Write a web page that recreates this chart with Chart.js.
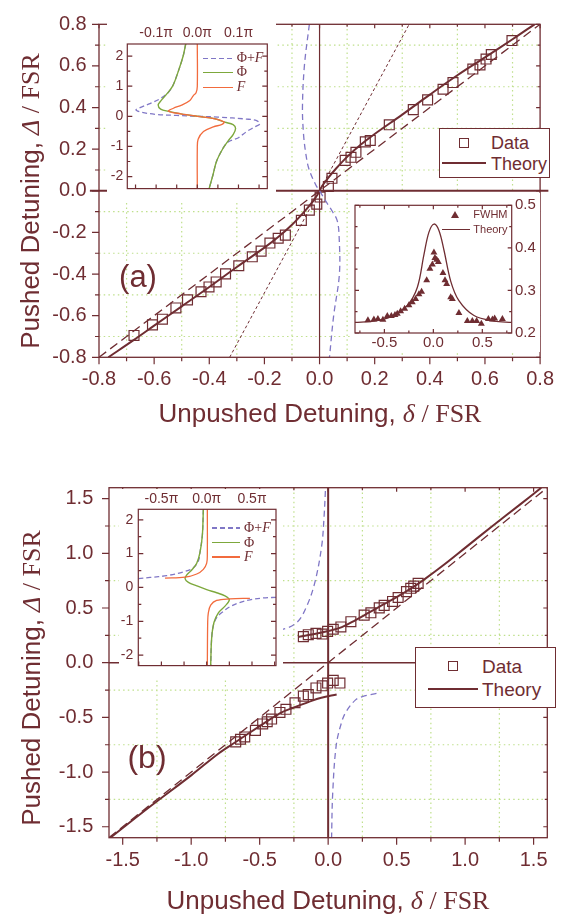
<!DOCTYPE html>
<html>
<head>
<meta charset="utf-8">
<title>Pushed vs unpushed detuning</title>
<script src="https://cdn.jsdelivr.net/npm/chart.js@4.4.1/dist/chart.umd.min.js"></script>
<style>
body { margin: 0; background: #fff; }
#fig { position: relative; width: 564px; height: 915px; overflow: hidden; background: #fff;
       font-family: "Liberation Sans", Arial, sans-serif; color: #6f2d32; }
#fig canvas { position: absolute; }
.t { position: absolute; white-space: nowrap; line-height: 1; transform: translate(-50%, -50%); }
.t.v { transform: translate(-50%, -50%) rotate(-90deg); }
.l { position: absolute; white-space: nowrap; line-height: 1; transform: translateY(-50%); }
.s { font-family: "Liberation Serif", "Times New Roman", serif; }
.box { position: absolute; box-sizing: border-box; border: 1.3px solid #6f2d32; background: #fff; }
.sq { position: absolute; box-sizing: border-box; width: 10px; height: 10px; border: 1.3px solid #6f2d32; }
.sw { position: absolute; }
.dash { background: repeating-linear-gradient(90deg, #8077c6 0 5px, transparent 5px 8px); height: 1.3px; }
</style>
</head>
<body>
<div id="fig">
  <canvas id="mainA" width="564" height="440" style="left:0;top:0"></canvas>
  <canvas id="insetA1" width="169" height="181" style="left:107px;top:20px"></canvas>
  <canvas id="insetA2" width="190" height="159" style="left:350px;top:193px"></canvas>
  <canvas id="mainB" width="564" height="455" style="left:0;top:460px"></canvas>
  <canvas id="insetB1" width="164" height="190" style="left:119px;top:489px"></canvas>

  <!-- panel (a) texts -->
  <div class="t" style="left:320px;top:413px;font-size:26px">Unpushed Detuning, <i class="s">δ</i><span class="s"> / FSR</span></div>
  <div class="t v" style="left:30px;top:201px;font-size:26px">Pushed Detuning, <i class="s">Δ</i><span class="s"> / FSR</span></div>
  <div class="t" style="left:138px;top:276px;font-size:31px">(a)</div>

  <div class="box" style="left:439px;top:128px;width:111px;height:50px"></div>
  <div class="sq" style="left:459px;top:138px"></div>
  <div class="l" style="left:491px;top:143px;font-size:18px">Data</div>
  <div class="sw" style="left:442px;top:162.3px;width:44px;height:2px;background:#6f2d32"></div>
  <div class="l" style="left:491px;top:164px;font-size:18px">Theory</div>

  <div class="sw dash" style="left:203px;top:57.7px;width:30px"></div>
  <div class="sw" style="left:203px;top:71.6px;width:30px;height:1.4px;background:#7da83c"></div>
  <div class="sw" style="left:203px;top:86.6px;width:30px;height:1.4px;background:#f26b3d"></div>
  <div class="l s" style="left:236.7px;top:58.3px;font-size:14px">Φ+<i>F</i></div>
  <div class="l s" style="left:236.7px;top:72.3px;font-size:14px">Φ</div>
  <div class="l s" style="left:236.7px;top:87.3px;font-size:14px"><i>F</i></div>

  <div class="sw" style="left:451px;top:210.5px;width:0;height:0;border-left:4px solid transparent;border-right:4px solid transparent;border-bottom:7px solid #6f2d32"></div>
  <div class="l" style="left:473.3px;top:214px;font-size:11px">FWHM</div>
  <div class="sw" style="left:441.7px;top:228.7px;width:28.3px;height:1.3px;background:#6f2d32"></div>
  <div class="l" style="left:473.3px;top:229.3px;font-size:11px">Theory</div>

  <!-- panel (b) texts -->
  <div class="t" style="left:328px;top:900px;font-size:26px">Unpushed Detuning, <i class="s">δ</i><span class="s"> / FSR</span></div>
  <div class="t v" style="left:31px;top:678px;font-size:26px">Pushed Detuning, <i class="s">Δ</i><span class="s"> / FSR</span></div>
  <div class="t" style="left:147px;top:757px;font-size:32px">(b)</div>

  <div class="box" style="left:415px;top:647px;width:141px;height:61px"></div>
  <div class="sq" style="left:448.3px;top:661px"></div>
  <div class="l" style="left:482px;top:666px;font-size:19px">Data</div>
  <div class="sw" style="left:428px;top:688px;width:50px;height:2px;background:#6f2d32"></div>
  <div class="l" style="left:482px;top:689px;font-size:19px">Theory</div>

  <div class="sw dash" style="left:211.7px;top:527.4px;width:28.3px"></div>
  <div class="sw" style="left:211.7px;top:541.8px;width:28.3px;height:1.4px;background:#7da83c"></div>
  <div class="sw" style="left:211.7px;top:556.3px;width:28.3px;height:1.4px;background:#f26b3d"></div>
  <div class="l s" style="left:244px;top:528px;font-size:14px">Φ+<i>F</i></div>
  <div class="l s" style="left:244px;top:542.5px;font-size:14px">Φ</div>
  <div class="l s" style="left:244px;top:557px;font-size:14px"><i>F</i></div>
</div>

<script>
var MAROON = '#6f2d32';
var BLUE = '#8077c6';
var GREEN = '#7da83c';
var ORANGE = '#f26b3d';
var GRID = '#bfe08c';
var SANS = '"Liberation Sans", Arial, sans-serif';

// ---------- panel (a): main ----------
var aTicks = [-0.8, -0.6, -0.4, -0.2, 0, 0.2, 0.4, 0.6, 0.8];
var aMinor = [-0.7, -0.5, -0.3, -0.1, 0.1, 0.3, 0.5, 0.7];
var aDataX = [-0.673, -0.606, -0.570, -0.521, -0.479, -0.430, -0.401, -0.375, -0.341, -0.293, -0.244, -0.212,
              -0.180, -0.150, -0.124, -0.066, -0.037, -0.010, 0.002, 0.032, 0.045, 0.093, 0.114, 0.132,
              0.166, 0.184, 0.253, 0.340, 0.392, 0.448, 0.484, 0.556, 0.582, 0.604, 0.623, 0.698];
var aDataY = [-0.695, -0.644, -0.617, -0.563, -0.524, -0.485, -0.462, -0.438, -0.399, -0.360, -0.317, -0.290,
              -0.251, -0.228, -0.213, -0.142, -0.093, -0.064, -0.030, 0.021, 0.060, 0.146, 0.161, 0.185,
              0.235, 0.242, 0.317, 0.390, 0.437, 0.488, 0.520, 0.585, 0.605, 0.633, 0.655, 0.722];
var aTheoryX = [-0.766, -0.676, -0.6, -0.5, -0.4, -0.3, -0.2, -0.15, -0.1, -0.06, -0.03, -0.01, 0,
                0.01, 0.03, 0.06, 0.1, 0.15, 0.2, 0.3, 0.4, 0.5, 0.6, 0.7, 0.78];
var aTheoryY = [-0.8, -0.719, -0.648, -0.555, -0.462, -0.366, -0.273, -0.222, -0.163, -0.107, -0.06, -0.024, 0,
                0.024, 0.06, 0.107, 0.163, 0.222, 0.273, 0.366, 0.462, 0.555, 0.641, 0.728, 0.8];
var aDiagX = [-0.8, 0.8];
var aDiagY = [-0.8, 0.8];
var aSlopeX = [-0.326, 0.325];
var aSlopeY = [-0.8, 0.8];
var aPoleX = [-0.037, -0.055, -0.062, -0.058, -0.05, -0.039, -0.014, 0, 0.012, 0.03, 0.045, 0.064, 0.071, 0.072, 0.051, 0.036];
var aPoleY = [0.8, 0.6, 0.4, 0.27, 0.18, 0.107, 0.029, 0, -0.026, -0.065, -0.096, -0.143, -0.22, -0.4, -0.602, -0.8];
var aZeroX = [-0.833, 0.83];

// ---------- panel (a): phase inset (x in units of pi) ----------
var a1TickX = [-0.1, 0, 0.1];
var a1MinorX = [-0.15, -0.05, 0.05, 0.15];
var a1TickY = [-2, -1, 0, 1, 2];
var a1MinorY = [-1.5, -0.5, 0.5, 1.5];
var a1SumX = [-0.028, -0.034, -0.046, -0.06, -0.07, -0.091, -0.115, -0.139, -0.149, -0.139, -0.099, -0.05, 0,
              0.05, 0.12, 0.144, 0.152, 0.14, 0.12, 0.1, 0.075, 0.063, 0.047, 0.038, 0.029];
var a1SumY = [2.41, 2.02, 1.5, 1.0, 0.8, 0.578, 0.423, 0.288, 0.217, 0.145, 0.062, 0.03, 0,
              -0.025, -0.093, -0.144, -0.247, -0.35, -0.505, -0.711, -0.85, -1.05, -1.485, -1.95, -2.39];
var a1PhiX = [-0.028, -0.034, -0.046, -0.06, -0.076, -0.089, -0.095, -0.089, -0.07, -0.04, 0,
              0.043, 0.067, 0.087, 0.093, 0.087, 0.075, 0.063, 0.047, 0.038, 0.029];
var a1PhiY = [2.41, 2.02, 1.5, 1.0, 0.71, 0.505, 0.371, 0.237, 0.165, 0.082, 0,
              -0.082, -0.196, -0.278, -0.402, -0.608, -0.814, -1.05, -1.485, -1.95, -2.39];
var a1FX = [0, 0, -0.003, -0.01, -0.018, -0.038, -0.058, -0.07, -0.04, 0,
            0.043, 0.065, 0.06, 0.039, 0.015, 0.002, 0, 0];
var a1FY = [2.41, 0.99, 0.78, 0.68, 0.526, 0.371, 0.268, 0.17, 0.082, 0,
            -0.082, -0.19, -0.27, -0.35, -0.505, -0.763, -1.07, -2.41];

// ---------- panel (a): FWHM inset ----------
var a2TickX = [-0.5, 0, 0.5];
var a2MinorX = [-0.75, -0.25, 0.25, 0.75];
var a2TickY = [0.2, 0.3, 0.4, 0.5];
var a2MinorY = [0.25, 0.35, 0.45];
var a2FwhmX = [-0.668, -0.607, -0.566, -0.515, -0.47, -0.429, -0.392, -0.368, -0.334, -0.293, -0.249, -0.215,
               -0.181, -0.147, -0.12, -0.068, -0.035, -0.01, 0.006, 0.016, 0.034, 0.051, 0.098, 0.119,
               0.136, 0.177, 0.194, 0.261, 0.347, 0.398, 0.442, 0.49, 0.562, 0.603, 0.626, 0.705];
var a2FwhmY = [0.230, 0.232, 0.233, 0.231, 0.240, 0.240, 0.242, 0.245, 0.251, 0.257, 0.265, 0.272,
               0.280, 0.291, 0.297, 0.324, 0.351, 0.361, 0.389, 0.376, 0.372, 0.367, 0.341, 0.324,
               0.315, 0.284, 0.280, 0.247, 0.228, 0.228, 0.228, 0.222, 0.233, 0.232, 0.234, 0.233];
var a2TheoryX = [-0.8, -0.607, -0.437, -0.266, -0.164, -0.096, -0.045, 0.006, 0.057, 0.108, 0.177, 0.261, 0.415, 0.619, 0.8];
var a2TheoryY = [0.225, 0.228, 0.238, 0.265, 0.307, 0.384, 0.437, 0.456, 0.441, 0.395, 0.322, 0.276, 0.241, 0.228, 0.225];

// ---------- panel (b): main ----------
var bTicks = [-1.5, -1, -0.5, 0, 0.5, 1, 1.5];
var bMinor = [-1.25, -0.75, -0.25, 0.25, 0.75, 1.25];
var bLowX = [-0.675, -0.64, -0.609, -0.531, -0.478, -0.445, -0.413, -0.352, -0.308, -0.242, -0.181, -0.145,
             -0.089, -0.043, -0.004, 0.037, 0.086];
var bLowY = [-0.724, -0.70, -0.679, -0.619, -0.56, -0.54, -0.515, -0.455, -0.426, -0.366, -0.306, -0.291,
             -0.231, -0.211, -0.186, -0.162, -0.186];
var bUpX = [-0.181, -0.145, -0.089, -0.043, -0.004, 0.037, 0.093, 0.166, 0.263, 0.312, 0.373, 0.409,
            0.47, 0.511, 0.572, 0.603, 0.625, 0.657];
var bUpY = [0.238, 0.256, 0.268, 0.262, 0.286, 0.306, 0.327, 0.375, 0.435, 0.456, 0.501, 0.524,
            0.56, 0.596, 0.65, 0.68, 0.70, 0.725];
var bTheoryUpX = [-0.22, -0.1, 0, 0.1, 0.2, 0.3, 0.4, 0.5, 0.6, 0.7, 0.85, 1.0, 1.2, 1.4, 1.556];
var bTheoryUpY = [0.235, 0.262, 0.29, 0.325, 0.39, 0.46, 0.53, 0.6, 0.675, 0.76, 0.9, 1.05, 1.25, 1.445, 1.6];
var bTheoryLowX = [-1.59, -1.3, -1.0, -0.8, -0.675, -0.5, -0.35, -0.25, -0.145, -0.05, 0.062];
var bTheoryLowY = [-1.6, -1.315, -1.03, -0.83, -0.725, -0.58, -0.46, -0.41, -0.36, -0.32, -0.291];
var bDiagX = [-1.6, 1.6];
var bDiagY = [-1.6, 1.6];
var bPoleUpX = [-0.5, -0.351, -0.23, -0.157, -0.096, -0.047, -0.03, -0.019];
var bPoleUpY = [0.265, 0.297, 0.366, 0.515, 0.739, 1.068, 1.33, 1.6];
var bPoleLowX = [0.353, 0.25, 0.2, 0.13, 0.098, 0.059, 0.033, 0.025];
var bPoleLowY = [-0.28, -0.31, -0.34, -0.45, -0.545, -0.754, -1.2, -1.6];

// ---------- panel (b): phase inset (x in units of pi) ----------
var b1TickX = [-0.5, 0, 0.5];
var b1MinorX = [-0.75, -0.25, 0.25, 0.75];
var b1TickY = [-2, -1, 0, 1, 2];
var b1MinorY = [-1.5, -0.5, 0.5, 1.5];
var b1FUpX = [0.007, 0.007, 0, -0.037, -0.11, -0.239, -0.46];
var b1FUpY = [2.31, 0.993, 0.717, 0.535, 0.397, 0.303, 0.276];
var b1FLowX = [0.477, 0.257, 0.11, 0.044, 0.018, 0.011, 0.007];
var b1FLowY = [-0.32, -0.339, -0.385, -0.524, -0.753, -1.03, -2.31];
var b1PhiX = [-0.037, -0.048, -0.074, -0.11, -0.165, -0.22, -0.239, -0.202, -0.11, 0, 0.11, 0.202, 0.25,
              0.202, 0.129, 0.081, 0.055, 0.044];
var b1PhiY = [2.31, 1.545, 1.04, 0.717, 0.516, 0.37, 0.26, 0.149, 0.047, -0.064, -0.156, -0.248, -0.367,
              -0.552, -0.753, -1.03, -1.49, -2.31];
var b1SumUpX = [-0.037, -0.048, -0.074, -0.09, -0.147, -0.257, -0.441, -0.625, -0.755];
var b1SumUpY = [2.31, 1.545, 1.04, 0.8, 0.58, 0.46, 0.35, 0.295, 0.26];
var b1SumLowX = [0.765, 0.625, 0.477, 0.349, 0.257, 0.184, 0.11, 0.074, 0.055, 0.044];
var b1SumLowY = [-0.293, -0.31, -0.367, -0.459, -0.57, -0.708, -0.891, -1.122, -1.49, -2.31];

// ---------- helpers ----------
function pts(xs, ys) {
    return xs.map(function(x, i) { return { x: x, y: ys[i] }; });
}

function curve(xs, ys, color, width, dash, extra) {
    return Object.assign({
        data: pts(xs, ys), showLine: true, pointRadius: 0, fill: false,
        borderColor: color, borderWidth: width, borderDash: dash || [], tension: 0.35
    }, extra || {});
}

function axis(pos, min, max, ticks, size, fontSize, pad, fmt) {
    return {
        type: 'linear', position: pos, min: min, max: max,
        afterBuildTicks: function(s) { s.ticks = ticks.map(function(v) { return { value: v }; }); },
        afterFit: function(s) {
            if (pos === 'left' || pos === 'right') { s.width = size; } else { s.height = size; }
        },
        grid: { display: false, drawTicks: false },
        border: { display: false },
        ticks: {
            color: MAROON, font: { family: SANS, size: fontSize }, padding: pad,
            autoSkip: false, maxRotation: 0, minRotation: 0, callback: fmt
        }
    };
}

var fmt1 = function(v) { return v.toFixed(1); };
var fmtPi = function(v) { return v.toFixed(1) + 'π'; };
var fmt0 = function(v) { return String(v); };

// background, dotted grid, frame and tick marks
function decor(conf) {
    return {
        id: 'decor',
        beforeDraw: function(chart) {
            var ctx = chart.ctx, a = chart.chartArea;
            ctx.save();
            ctx.fillStyle = '#fff';
            ctx.fillRect(0, 0, chart.width, chart.height);
            if (conf.gridX) {
                ctx.strokeStyle = GRID;
                ctx.lineWidth = 1.2;
                ctx.setLineDash([1.5, 3.2]);
                ctx.beginPath();
                conf.gridX.forEach(function(v) {
                    var p = chart.scales.x.getPixelForValue(v);
                    ctx.moveTo(p, a.top); ctx.lineTo(p, a.bottom);
                });
                conf.gridY.forEach(function(v) {
                    var p = chart.scales.y.getPixelForValue(v);
                    ctx.moveTo(a.left, p); ctx.lineTo(a.right, p);
                });
                ctx.stroke();
            }
            ctx.restore();
        },
        afterDatasetsDraw: function(chart) {
            var ctx = chart.ctx, a = chart.chartArea;
            ctx.save();
            ctx.strokeStyle = MAROON;
            ctx.setLineDash([]);
            ctx.lineWidth = conf.frame || 1.3;
            ctx.strokeRect(a.left, a.top, a.right - a.left, a.bottom - a.top);
            ctx.lineWidth = 1.2;
            ctx.beginPath();
            conf.marks.forEach(function(m) {
                var horiz = (m.side === 'top' || m.side === 'bottom');
                var sc = horiz ? chart.scales.x : chart.scales.y;
                m.values.forEach(function(v) {
                    var p = sc.getPixelForValue(v);
                    if (m.side === 'bottom') { ctx.moveTo(p, a.bottom); ctx.lineTo(p, a.bottom + m.len); }
                    if (m.side === 'top') { ctx.moveTo(p, a.top); ctx.lineTo(p, a.top - m.len); }
                    if (m.side === 'left') { ctx.moveTo(a.left, p); ctx.lineTo(a.left - m.len, p); }
                    if (m.side === 'right') { ctx.moveTo(a.right, p); ctx.lineTo(a.right + m.len, p); }
                });
            });
            ctx.stroke();
            ctx.restore();
        }
    };
}

function marks4(majX, minX, majY, minY, outMaj, outMin, inMaj, inMin) {
    return [
        { side: 'bottom', values: majX, len: outMaj }, { side: 'bottom', values: minX, len: outMin },
        { side: 'left', values: majY, len: outMaj }, { side: 'left', values: minY, len: outMin },
        { side: 'top', values: majX, len: inMaj }, { side: 'top', values: minX, len: inMin },
        { side: 'right', values: majY, len: inMaj }, { side: 'right', values: minY, len: inMin }
    ];
}

function makeChart(id, datasets, scales, padding, conf) {
    return new Chart(document.getElementById(id), {
        type: 'scatter',
        data: { datasets: datasets },
        options: {
            responsive: false,
            animation: false,
            events: [],
            layout: { padding: padding },
            plugins: { legend: { display: false }, tooltip: { enabled: false } },
            scales: scales
        },
        plugins: [decor(conf)]
    });
}

var squares = {
    showLine: false, pointStyle: 'rect', pointRadius: 7,
    borderColor: MAROON, borderWidth: 1.2, backgroundColor: 'rgba(0,0,0,0)'
};

// ---------- panel (a) main ----------
makeChart('mainA', [
    curve(aPoleX, aPoleY, BLUE, 1.3, [6, 4]),
    curve(aSlopeX, aSlopeY, MAROON, 1, [3, 2.5], { tension: 0 }),
    curve(aDiagX, aDiagY, MAROON, 1.3, [9, 5], { tension: 0 }),
    curve(aZeroX, [0, 0], MAROON, 2, [], { tension: 0, clip: { left: 12, right: 12, top: 0, bottom: 0 } }),
    curve([0, 0], [-0.8, 0.8], MAROON, 1.2, [], { tension: 0 }),
    curve(aTheoryX, aTheoryY, MAROON, 2),
    Object.assign({ data: pts(aDataX, aDataY) }, squares)
], {
    x: axis('bottom', -0.8, 0.8, aTicks, 82.7, 20, 10, fmt1),
    y: axis('left', -0.8, 0.8, aTicks, 99, 20, 12.3, fmt1)
}, { left: 0, right: 22.3, top: 15, bottom: 0 }, {
    gridX: aMinor, gridY: aMinor,
    marks: marks4(aTicks, aMinor, aTicks, aMinor, 7, 4, -4, -2.5)
});

// ---------- panel (a) phase inset ----------
makeChart('insetA1', [
    curve(a1FX, a1FY, ORANGE, 1.3),
    curve(a1PhiX, a1PhiY, GREEN, 1.4),
    curve(a1SumX, a1SumY, BLUE, 1.3, [5, 3])
], {
    x: axis('top', -0.17, 0.17, a1TickX, 24, 14, 2.3, fmtPi),
    y: axis('left', -2.4, 2.4, a1TickY, 20.3, 14, 4, fmt0)
}, { left: 0, right: 8.7, top: 0, bottom: 1.7 }, {
    frame: 1.2,
    marks: [
        { side: 'bottom', values: a1TickX.concat(a1MinorX), len: -4 },
        { side: 'left', values: a1TickY, len: -5 }, { side: 'left', values: a1MinorY, len: -3 },
        { side: 'right', values: a1TickY, len: -5 }, { side: 'right', values: a1MinorY, len: -3 }
    ]
});

// ---------- panel (a) FWHM inset ----------
makeChart('insetA2', [
    curve(a2TheoryX, a2TheoryY, MAROON, 1.3),
    { data: pts(a2FwhmX, a2FwhmY), showLine: false, pointStyle: 'triangle', pointRadius: 4,
      borderWidth: 0, backgroundColor: MAROON, borderColor: MAROON }
], {
    x: axis('bottom', -0.8, 0.8, a2TickX, 19, 15, 1.3, fmt1),
    y: axis('right', 0.2, 0.5, a2TickY, 28.3, 15, 3.3, fmt1)
}, { left: 5, right: 0, top: 9.7, bottom: 0 }, {
    frame: 1.2,
    marks: [
        { side: 'bottom', values: a2TickX, len: -4 }, { side: 'bottom', values: a2MinorX, len: -2.5 },
        { side: 'top', values: a2TickX, len: -4 }, { side: 'top', values: a2MinorX, len: -2.5 },
        { side: 'left', values: a2TickY, len: -4 }, { side: 'left', values: a2MinorY, len: -2.5 },
        { side: 'right', values: a2TickY, len: -4 }, { side: 'right', values: a2MinorY, len: -2.5 }
    ]
});

// ---------- panel (b) main ----------
makeChart('mainB', [
    curve(bPoleUpX, bPoleUpY, BLUE, 1.3, [6, 4]),
    curve(bPoleLowX, bPoleLowY, BLUE, 1.3, [6, 4]),
    curve(bDiagX, bDiagY, MAROON, 1.3, [9, 5], { tension: 0 }),
    curve([-1.6, 1.6], [0, 0], MAROON, 1.6, [], { tension: 0 }),
    curve([0, 0], [-1.6, 1.6], MAROON, 2, [], { tension: 0 }),
    curve(bTheoryLowX, bTheoryLowY, MAROON, 2),
    curve(bTheoryUpX, bTheoryUpY, MAROON, 2),
    Object.assign({ data: pts(bLowX, bLowY) }, squares),
    Object.assign({ data: pts(bUpX, bUpY) }, squares)
], {
    x: axis('bottom', -1.6, 1.6, bTicks, 77.3, 20, 10.9, fmt1),
    y: axis('left', -1.6, 1.6, bTicks, 109, 20, 15.7, fmt1)
}, { left: 0, right: 16.7, top: 20.7, bottom: 0 }, {
    gridX: bMinor, gridY: bMinor,
    marks: marks4(bTicks, bMinor, bTicks, bMinor, 7, 4, -4, -2.5)
});

// ---------- panel (b) phase inset ----------
makeChart('insetB1', [
    curve(b1FUpX, b1FUpY, ORANGE, 1.3),
    curve(b1FLowX, b1FLowY, ORANGE, 1.3),
    curve(b1PhiX, b1PhiY, GREEN, 1.4),
    curve(b1SumUpX, b1SumUpY, BLUE, 1.3, [5, 3]),
    curve(b1SumLowX, b1SumLowY, BLUE, 1.3, [5, 3])
], {
    x: axis('top', -0.755, 0.765, b1TickX, 20.3, 14, 1.6, fmtPi),
    y: axis('left', -2.31, 2.31, b1TickY, 19.3, 14, 5, fmt0)
}, { left: 0, right: 7, top: 0, bottom: 2.3 }, {
    frame: 1.2,
    marks: [
        { side: 'bottom', values: b1TickX.concat(b1MinorX), len: -4 },
        { side: 'left', values: b1TickY, len: -5 }, { side: 'left', values: b1MinorY, len: -3 },
        { side: 'right', values: b1TickY, len: -5 }, { side: 'right', values: b1MinorY, len: -3 }
    ]
});
</script>
</body>
</html>
